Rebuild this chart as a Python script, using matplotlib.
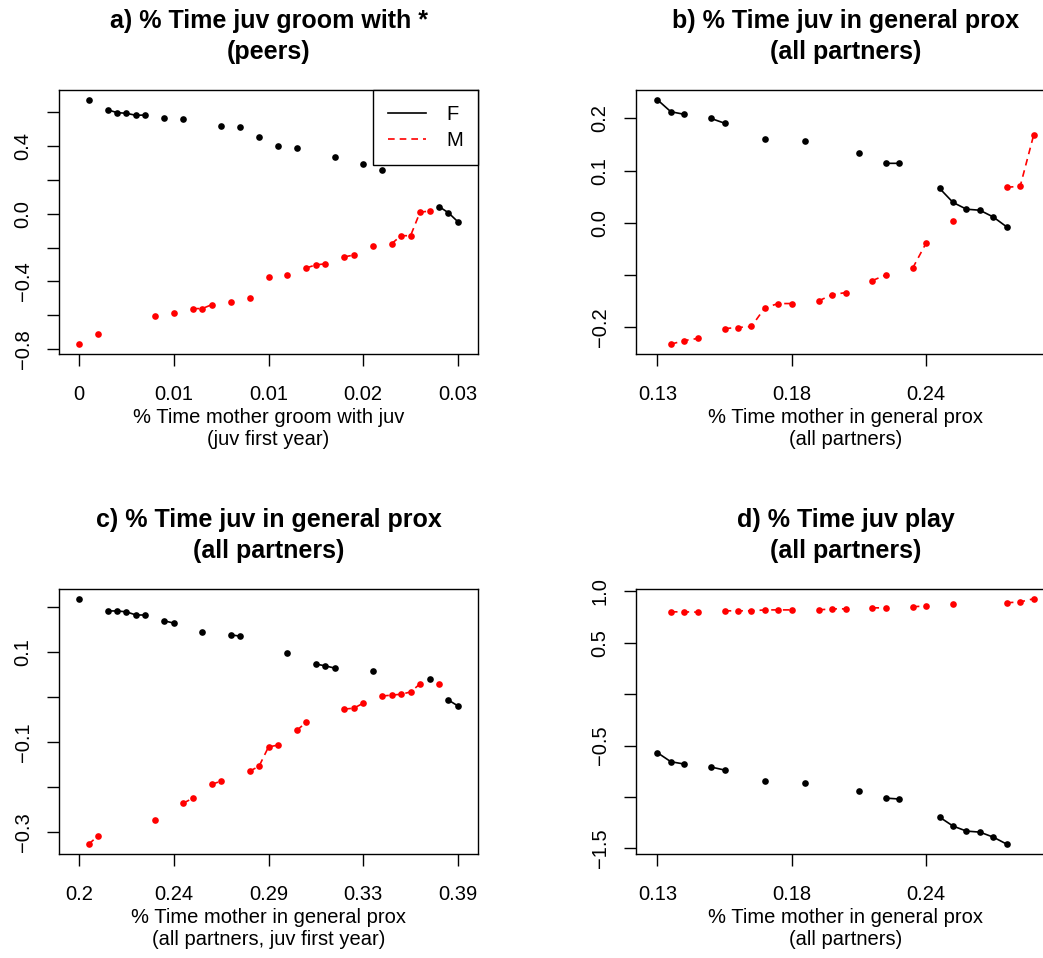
import numpy as np
import matplotlib
matplotlib.use('Agg')
import matplotlib.pyplot as plt

plt.rcParams['font.family'] = ['Liberation Sans', 'DejaVu Sans']

# x is the rank of the mother's value; gaps in the rank break the line

# a) % time juv groom with peers
a_n = 41
a_f_x = [1, 3, 4, 5, 6, 7, 9, 11, 15, 17, 19, 21, 23, 27, 30, 32, 38, 39, 40]
a_f_y = [0.672, 0.613, 0.596, 0.592, 0.580, 0.582, 0.566, 0.560, 0.519, 0.513,
         0.455, 0.402, 0.390, 0.337, 0.290, 0.255, 0.042, 0.005, -0.048]
a_m_x = [0, 2, 8, 10, 12, 13, 14, 16, 18, 20, 22, 24, 25, 26, 28, 29, 31, 33,
         34, 35, 36, 37]
a_m_y = [-0.770, -0.707, -0.602, -0.584, -0.560, -0.560, -0.537, -0.519, -0.496,
         -0.373, -0.361, -0.320, -0.302, -0.296, -0.255, -0.244, -0.191, -0.177,
         -0.130, -0.130, 0.009, 0.015]

# b) % time juv in general prox
b_n = 29
b_f_x = [0, 1, 2, 4, 5, 8, 11, 15, 17, 18, 21, 22, 23, 24, 25, 26]
b_f_y = [0.236, 0.213, 0.208, 0.200, 0.191, 0.160, 0.156, 0.133, 0.114, 0.114,
         0.066, 0.039, 0.026, 0.024, 0.011, -0.008]
b_m_x = [1, 2, 3, 5, 6, 7, 8, 9, 10, 12, 13, 14, 16, 17, 19, 20, 22, 26, 27, 28]
b_m_y = [-0.233, -0.226, -0.222, -0.203, -0.201, -0.199, -0.163, -0.155, -0.155,
         -0.150, -0.138, -0.134, -0.111, -0.100, -0.087, -0.039, 0.003, 0.068,
         0.070, 0.168]

# c) % time juv in general prox, mother value in juv first year
c_n = 41
c_f_x = [0, 3, 4, 5, 6, 7, 9, 10, 13, 16, 17, 22, 25, 26, 27, 31, 37, 39, 40]
c_f_y = [0.219, 0.192, 0.192, 0.190, 0.183, 0.183, 0.170, 0.165, 0.145, 0.139,
         0.136, 0.099, 0.074, 0.070, 0.065, 0.059, 0.041, -0.006, -0.019]
c_m_x = [1, 2, 8, 11, 12, 14, 15, 18, 19, 20, 21, 23, 24, 28, 29, 30, 32, 33,
         34, 35, 36, 38]
c_m_y = [-0.326, -0.308, -0.273, -0.235, -0.224, -0.193, -0.186, -0.164, -0.153,
         -0.110, -0.106, -0.073, -0.055, -0.026, -0.024, -0.013, 0.003, 0.005,
         0.007, 0.012, 0.030, 0.030]

# d) % time juv play
d_n = 29
d_f_x = [0, 1, 2, 4, 5, 8, 11, 15, 17, 18, 21, 22, 23, 24, 25, 26]
d_f_y = [-0.568, -0.656, -0.679, -0.708, -0.737, -0.844, -0.864, -0.942, -1.010,
         -1.019, -1.195, -1.282, -1.331, -1.341, -1.390, -1.458]
d_m_x = [1, 2, 3, 5, 6, 7, 8, 9, 10, 12, 13, 14, 16, 17, 19, 20, 22, 26, 27, 28]
d_m_y = [0.802, 0.802, 0.799, 0.812, 0.812, 0.812, 0.821, 0.821, 0.821, 0.821,
         0.831, 0.831, 0.841, 0.841, 0.851, 0.860, 0.880, 0.890, 0.899, 0.929]

titles = ['a) % Time juv groom with *\n(peers)',
          'b) % Time juv in general prox\n(all partners)',
          'c) % Time juv in general prox\n(all partners)',
          'd) % Time juv play\n(all partners)']
xlabels = ['% Time mother groom with juv\n(juv first year)',
           '% Time mother in general prox\n(all partners)',
           '% Time mother in general prox\n(all partners, juv first year)',
           '% Time mother in general prox\n(all partners)']

x_ticks = [[0, 10, 20, 30, 40], [0, 10, 20], [0, 10, 20, 30, 40], [0, 10, 20]]
x_ticklabels = [['0', '0.01', '0.01', '0.02', '0.03'],
                ['0.13', '0.18', '0.24'],
                ['0.2', '0.24', '0.29', '0.33', '0.39'],
                ['0.13', '0.18', '0.24']]
y_ticks = [[-0.8, -0.6, -0.4, -0.2, 0.0, 0.2, 0.4, 0.6],
           [-0.2, -0.1, 0.0, 0.1, 0.2],
           [-0.3, -0.2, -0.1, 0.0, 0.1, 0.2],
           [-1.5, -1.0, -0.5, 0.0, 0.5, 1.0]]
y_ticklabels = [['\u22120.8', '', '\u22120.4', '', '0.0', '', '0.4', ''],
                ['\u22120.2', '', '0.0', '0.1', '0.2'],
                ['\u22120.3', '', '\u22120.1', '', '0.1', ''],
                ['\u22121.5', '', '\u22120.5', '', '0.5', '1.0']]

panels = [(a_n, a_f_x, a_f_y, a_m_x, a_m_y),
          (b_n, b_f_x, b_f_y, b_m_x, b_m_y),
          (c_n, c_f_x, c_f_y, c_m_x, c_m_y),
          (d_n, d_f_x, d_f_y, d_m_x, d_m_y)]

# axes boxes in figure fractions (right column runs past the right edge)
ax_pos = [[0.0566, 0.6305, 0.4017, 0.2756],
          [0.6098, 0.6305, 0.4017, 0.2756],
          [0.0566, 0.1086, 0.4017, 0.2766],
          [0.6098, 0.1086, 0.4017, 0.2766]]


def on_grid(n, idx, vals):
    y = np.full(n, np.nan)
    y[idx] = vals
    return y


fig = plt.figure(figsize=(10.43, 9.58), dpi=100)

for i, (n, f_x, f_y, m_x, m_y) in enumerate(panels):
    ax = fig.add_axes(ax_pos[i])
    x = np.arange(n)

    line_f, = ax.plot(x, on_grid(n, f_x, f_y), color='black', lw=1.2)
    line_m, = ax.plot(x, on_grid(n, m_x, m_y), color='red', lw=1.2, ls=(0, (4, 3)))
    ax.plot(f_x, f_y, 'o', color='black', ms=4.8, mew=0)
    ax.plot(m_x, m_y, 'o', color='red', ms=4.8, mew=0)

    # R style limits: 4% padding on y
    lo = min(min(f_y), min(m_y))
    hi = max(max(f_y), max(m_y))
    pad = 0.04 * (hi - lo)
    ax.set_ylim(lo - pad, hi + pad)
    xpad = 0.053 * (n - 1) if n == 41 else 1.59
    ax.set_xlim(-xpad, n - 1 + xpad)

    ax.set_xticks(x_ticks[i])
    ax.set_xticklabels(x_ticklabels[i])
    ax.set_yticks(y_ticks[i])
    ax.set_yticklabels(y_ticklabels[i], rotation=90, va='center')
    ax.tick_params(direction='out', length=8.5, width=1, labelsize=14.5)
    ax.tick_params(axis='x', pad=13.5)
    ax.tick_params(axis='y', pad=10.5)
    for s in ax.spines.values():
        s.set_linewidth(1)

    ax.set_title(titles[i], fontsize=18, fontweight='bold', pad=22, linespacing=1.38)
    ax.set_xlabel(xlabels[i], fontsize=14.5, labelpad=3, linespacing=1.2)

    if i == 0:
        leg = ax.legend([line_f, line_m], ['F', 'M'], loc='upper right',
                        borderaxespad=0, fancybox=False, edgecolor='black',
                        framealpha=1, fontsize=14.5, handlelength=1.9,
                        handletextpad=1.0, borderpad=0.75, labelspacing=0.35)
        leg.get_frame().set_linewidth(1)

fig.savefig('out.png', dpi=100)
